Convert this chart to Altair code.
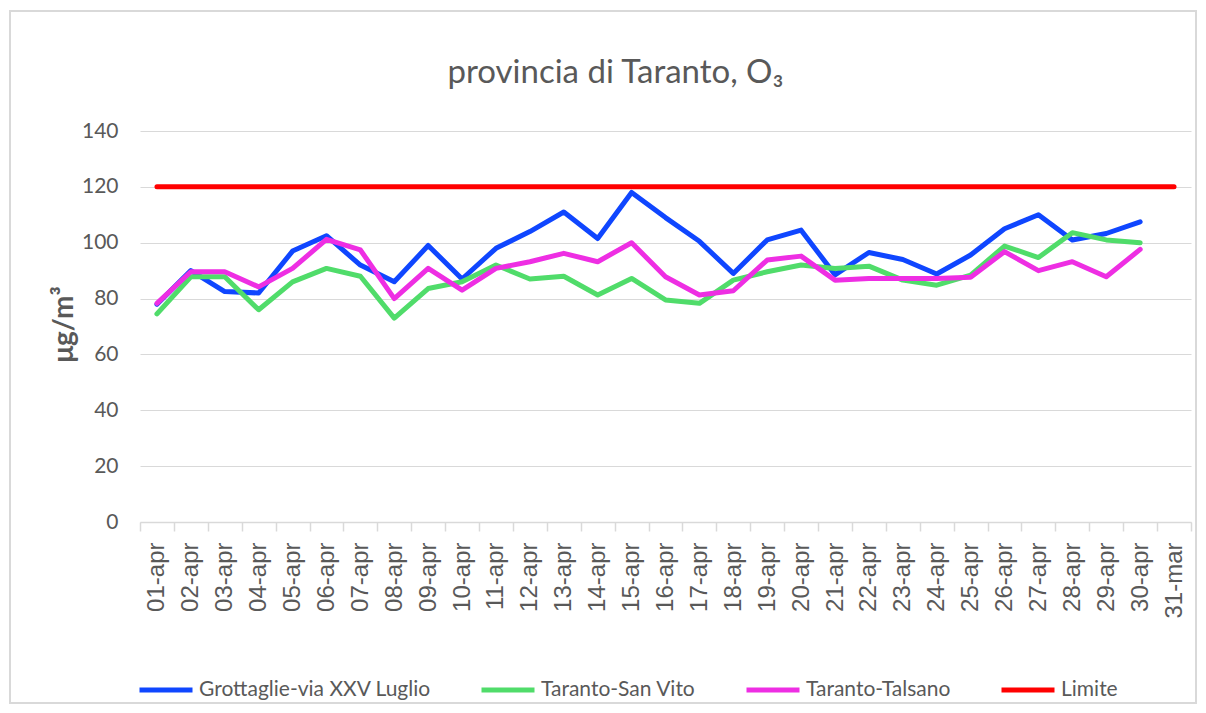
import altair as alt
import pandas as pd

days = ["01-apr", "02-apr", "03-apr", "04-apr", "05-apr", "06-apr", "07-apr", "08-apr",
        "09-apr", "10-apr", "11-apr", "12-apr", "13-apr", "14-apr", "15-apr", "16-apr",
        "17-apr", "18-apr", "19-apr", "20-apr", "21-apr", "22-apr", "23-apr", "24-apr",
        "25-apr", "26-apr", "27-apr", "28-apr", "29-apr", "30-apr", "31-mar"]

grottaglie = [78, 90, 82.5, 82, 97, 102.5, 92, 86, 99, 87, 98, 104, 111, 101.5, 118, 109,
              100.5, 89, 101, 104.5, 88.5, 96.5, 94, 88.8, 95.6, 105, 110, 101, 103.3, 107.5, None]
san_vito = [74.5, 87.8, 87.8, 76, 86, 90.8, 88, 73, 83.6, 86, 92, 87, 88, 81.3, 87.2, 79.5,
            78.3, 86.6, 89.6, 92, 90.8, 91.6, 86.6, 84.8, 88.4, 98.8, 94.7, 103.6, 101, 100, None]
talsano = [78.3, 89.6, 89.6, 84.2, 90.8, 101.2, 97.4, 80, 90.8, 83, 90.8, 93.2, 96.2, 93.2, 100, 87.8,
           81.3, 82.8, 93.8, 95.2, 86.6, 87.2, 87.2, 87.2, 87.6, 96.8, 90, 93.2, 87.8, 97.6, None]
limite = [120, 120, 120, 120, 120, 120, 120, 120, 120, 120, 120, 120, 120, 120, 120, 120,
          120, 120, 120, 120, 120, 120, 120, 120, 120, 120, 120, 120, 120, 120, 120]

series_names = ["Grottaglie-via XXV Luglio", "Taranto-San Vito", "Taranto-Talsano", "Limite"]
series_colors = ["#0F46FF", "#50DC6A", "#EE2EE3", "#FF0000"]
y_ticks = [0, 20, 40, 60, 80, 100, 120, 140]

rows = []
for name, vals in zip(series_names, [grottaglie, san_vito, talsano, limite]):
    for d, v in zip(days, vals):
        if v is not None:
            rows.append({"day": d, "value": v, "series": name})
df = pd.DataFrame(rows)

FONT = "Liberation Sans Narrow, Lato, sans-serif"
GREY = "#595959"

lines = alt.Chart(df).mark_line(strokeWidth=5, strokeCap="round", strokeJoin="round").encode(
    x=alt.X("day:N", sort=days, bandPosition=0.5,
            scale=alt.Scale(type="band", paddingInner=0, paddingOuter=0, domain=days),
            axis=alt.Axis(title=None, labelAngle=-90, tickBand="extent", grid=False,
                          domainColor="#d9d9d9", domainWidth=1.5, tickColor="#d9d9d9",
                          tickWidth=1.5, tickSize=9, labelPadding=11,
                          labelFont="Liberation Sans, Arial, sans-serif", labelFontSize=24,
                          labelColor=GREY)),
    y=alt.Y("value:Q", scale=alt.Scale(domain=[0, 140]),
            axis=alt.Axis(values=y_ticks, title="μg/m³", domain=False, ticks=False,
                          labelPadding=22, labelFontSize=21, labelColor=GREY, labelFont=FONT,
                          gridColor="#d9d9d9", gridWidth=1.2,
                          titleFont=FONT, titleFontSize=28, titleFontWeight="bold",
                          titleColor=GREY, titleX=-76, titleY=193, titleAngle=-90,
                          titleBaseline="middle", titleAlign="center")),
    color=alt.Color("series:N", sort=series_names,
                    scale=alt.Scale(domain=series_names, range=series_colors),
                    legend=alt.Legend(title=None, orient="none", legendX=-3, legendY=530,
                                      direction="horizontal", symbolType="stroke",
                                      symbolStrokeWidth=5, symbolSize=2809,
                                      labelOffset=4, columnPadding=40, labelFontSize=21,
                                      labelFont=FONT, labelColor=GREY, labelLimit=400)),
)

frame = alt.Chart(pd.DataFrame({"a": [0]})).mark_rect(fill=None, stroke="#d9d9d9", strokeWidth=2).encode(
    x=alt.value(-130), x2=alt.value(1056), y=alt.value(-120), y2=alt.value(572)
)

chart = alt.layer(frame, lines).properties(
    width=1051, height=391,
    title=alt.TitleParams("provincia di Taranto, O₃", font=FONT, fontSize=33,
                          fontWeight="normal", color=GREY, anchor="middle", dx=-50, offset=-80),
    autosize=alt.AutoSizeParams(type="none"),
    padding={"left": 132, "top": 123, "right": 7, "bottom": 183},
).configure_view(stroke=None)

chart.save("out.html", embed_options={"renderer": "svg", "actions": False})
